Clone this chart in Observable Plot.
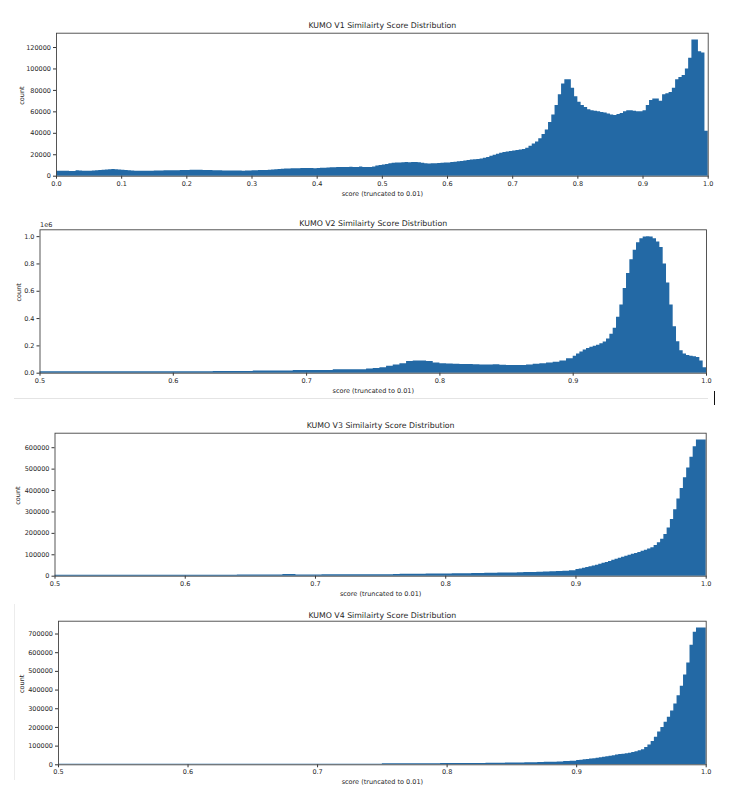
<!DOCTYPE html>
<html>
<head>
<meta charset="utf-8">
<script src="https://cdn.jsdelivr.net/npm/d3@7"></script>
<script src="https://cdn.jsdelivr.net/npm/@observablehq/plot@0.6"></script>
<style>
  html, body { margin: 0; padding: 0; background: #fff; }
  #page { position: relative; width: 729px; height: 801px; overflow: hidden; font-family: "DejaVu Sans", sans-serif; }
  .panel { position: absolute; left: 0; width: 729px; overflow: hidden; }
  .deco { position: absolute; }
</style>
</head>
<body>
<div id="page"></div>
<script>
// ---- data ----
const titles = [
  "KUMO V1 Similairty Score Distribution",
  "KUMO V2 Similairty Score Distribution",
  "KUMO V3 Similairty Score Distribution",
  "KUMO V4 Similairty Score Distribution"
];
const xLabel = "score (truncated to 0.01)";
const yLabel = "count";

// coarse bins: width 0.005 ; tail bins (0.9 - 1.0): width 0.0025
const coarseWidth = 0.005;
const tailWidth = 0.0025;
const tailStart = 0.9;

// V1: 0.0 - 1.0 in 0.005 bins
const v1Counts = [
  4500,4500,4500,4500,4300,4300,5000,4800,4500,4500,4600,4800,5000,5200,5500,5800,6000,6200,6000,5800,
  5500,5200,5000,4800,4700,4600,4600,4600,4700,4700,4800,4800,4900,5000,5000,5000,5100,5100,5200,5300,
  5400,5500,5500,5500,5500,5400,5300,5200,5100,5000,5000,4900,4900,4800,4800,4900,4800,4700,4800,4900,
  5000,5100,5200,5300,5400,5600,5800,6000,6300,6500,6700,6800,6900,7000,7000,7100,7200,7200,7100,7000,
  7100,7300,7500,7600,7800,7900,8000,8000,8200,8100,8300,8000,8200,8500,8200,8000,8000,8500,9500,10000,
  10500,11000,11500,12000,12200,12300,12600,12800,12600,12700,12800,12500,12000,11500,11300,11500,11700,11800,12000,12200,
  12400,12700,13000,13400,13800,14200,14700,15000,15300,15500,16000,16800,17500,18500,19500,20500,21500,22000,22500,23000,
  23500,24000,24500,25000,26000,28000,30000,32000,35000,39000,43000,50000,57000,66000,76000,86000,90000,90000,82000,74000,
  69000,66000,64000,62000,61000,60500,60000,59500,59000,58000,57000,56500,57500,58500,60000,61000,61000,60500,60000,60000,
  61000,66000,70500,72000,72000,70000,76000,77000,78000,82000,90000,92000,94000,100000,110000,127000,127000,116000,115000,42000
];

// V2..V4: 0.5 - 0.9 in 0.005 bins
const v2Counts = [
  10000,10000,10000,10000,10000,10000,10000,10000,10000,10000,10000,10000,10000,10000,10000,10000,10000,10000,10000,10000,
  10000,10000,10000,10000,10000,10000,13000,13000,13000,13000,13000,13000,16000,16000,16000,16000,16000,16000,20000,20000,
  20000,20000,20000,20000,25000,25000,25000,25000,25000,30000,35000,40000,50000,60000,70000,85000,90000,90000,85000,75000,
  70000,68000,65000,64000,63000,62000,60000,60000,61000,58000,56000,56000,57000,60000,65000,70000,75000,80000,90000,105000
];
const v3Counts = [
  4000,4000,4000,4000,4000,4000,4000,4000,4000,4000,4000,4000,4000,4000,4000,4000,4000,4000,4000,4000,
  4000,4000,4000,4000,4000,4000,4000,4000,5500,5500,5500,5500,5500,5500,5500,7500,7500,6000,6000,6000,
  6000,6200,6200,6300,6300,6400,6500,6500,6600,6700,6800,7000,8500,8800,9000,9200,9500,9800,10000,10200,
  10500,11000,11500,12000,12500,13000,13500,14000,14500,15000,15500,16000,16800,17500,18500,19500,20500,21500,23000,26000
];
const v4Counts = [
  3000,3000,3000,3000,3000,3000,3000,3000,3000,3000,3000,3000,3000,3000,3000,3000,3000,3000,3000,3000,
  3000,3000,3000,3000,3000,3000,3000,3000,3000,3000,3000,3000,3000,3000,3000,3000,3000,3000,3000,3000,
  3000,3000,3000,3000,3000,3000,3000,3000,3000,3000,5500,5500,5600,5700,5800,5900,6000,6100,6200,6300,
  6400,6500,6600,6800,7000,7200,8000,8300,8600,9000,9500,10000,10500,11000,12000,13000,14000,15000,17000,19000
];

// V2..V4: 0.9 - 1.0 in 0.0025 bins
const v2Tail = [
  125000,140000,155000,170000,180000,190000,198000,205000,215000,228000,
  250000,285000,330000,410000,500000,620000,730000,830000,900000,955000,
  985000,997000,1000000,997000,985000,960000,920000,800000,660000,500000,
  340000,230000,165000,140000,130000,125000,120000,115000,90000,40000
];
const v3Tail = [
  31000,34000,37500,41000,44500,48000,51500,55500,60000,64500,
  69000,74000,79000,84000,88500,93000,98000,102000,106000,111000,
  116000,121000,127000,133000,143000,156000,172000,195000,225000,265000,
  310000,360000,410000,460000,505000,555000,605000,636000,636000,636000
];
const v4Tail = [
  23000,25000,27000,29000,31000,33000,35000,38000,40500,43000,
  46000,49000,52000,54500,57000,59500,62000,66000,70000,75000,
  80000,92000,106000,125000,148000,175000,200000,228000,255000,288000,
  325000,370000,420000,480000,545000,640000,710000,732000,732000,732000
];

const xTicksV1 = [0.0,0.1,0.2,0.3,0.4,0.5,0.6,0.7,0.8,0.9,1.0];
const xTicksHigh = [0.5,0.6,0.7,0.8,0.9,1.0];
const yTicksV1 = [0,20000,40000,60000,80000,100000,120000];
const yTicksV2 = [0,200000,400000,600000,800000,1000000];
const yTicksV3 = [0,100000,200000,300000,400000,500000,600000];
const yTicksV4 = [0,100000,200000,300000,400000,500000,600000,700000];

// ---- build histogram rows ----
function binsFrom(counts, start, width) {
  return counts.map((c, i) => ({x: start + i * width, y: c}));
}
function histRows(coarse, coarseStart, tail) {
  const rows = binsFrom(coarse, coarseStart, coarseWidth);
  let end = coarseStart + coarse.length * coarseWidth;
  let last = coarse[coarse.length - 1];
  if (tail) {
    rows.push(...binsFrom(tail, tailStart, tailWidth));
    end = tailStart + tail.length * tailWidth;
    last = tail[tail.length - 1];
  }
  rows.push({x: end, y: last});
  return rows;
}

// ---- layout (styling only) ----
const barColor = "#2369a5";
const textColor = "#262626";
const panels = [
  {rows: histRows(v1Counts, 0.0, null), xDomain: [0,1], xTicks: xTicksV1, yTicks: yTicksV1, yFmt: d3.format("d"),
   top: 0, height: 200, mt: 32.7, mb: 24.3, ml: 56, mr: 21.3, titleDy: -7.5, yLabelDx: -35},
  {rows: histRows(v2Counts, 0.5, v2Tail), xDomain: [0.5,1], xTicks: xTicksHigh, yTicks: yTicksV2, yFmt: d => (d/1e6).toFixed(1), offsetText: "1e6",
   top: 200, height: 198, mt: 29.3, mb: 25.3, ml: 39.5, mr: 23, titleDy: -6.8, yLabelDx: -21},
  {rows: histRows(v3Counts, 0.5, v3Tail), xDomain: [0.5,1], xTicks: xTicksHigh, yTicks: yTicksV3, yFmt: d3.format("d"),
   top: 410, height: 189, mt: 22.7, mb: 23.3, ml: 54.5, mr: 23.3, titleDy: -7.5, yLabelDx: -37},
  {rows: histRows(v4Counts, 0.5, v4Tail), xDomain: [0.5,1], xTicks: xTicksHigh, yTicks: yTicksV4, yFmt: d3.format("d"),
   top: 599, height: 202, mt: 21.7, mb: 36.7, ml: 58, mr: 23.3, titleDy: -6, yLabelDx: -37}
];

const page = document.getElementById("page");

panels.forEach((p, k) => {
  const yMax = d3.max(p.rows, d => d.y) * 1.05;

  const marks = [
    Plot.areaY(p.rows, {x: "x", y: "y", curve: "step-after", fill: barColor}),
    Plot.axisX({ticks: p.xTicks, tickFormat: d3.format(".1f"), tickSize: 3, tickPadding: 2, fontSize: 6.5, fill: textColor, stroke: "#333", label: null}),
    Plot.axisY({ticks: p.yTicks, tickFormat: p.yFmt, tickSize: 3, tickPadding: 2.5, fontSize: 6.5, fill: textColor, stroke: "#333", label: null}),
    Plot.frame({stroke: "#444", strokeWidth: 0.9}),
    Plot.text([titles[k]], {frameAnchor: "top", dy: p.titleDy, lineAnchor: "middle", fontSize: 7.8, fill: textColor}),
    Plot.text([xLabel], {frameAnchor: "bottom", dy: 17.5, lineAnchor: "middle", fontSize: 6.5, fill: textColor}),
    Plot.text([yLabel], {frameAnchor: "left", dx: p.yLabelDx, rotate: -90, lineAnchor: "middle", fontSize: 6.5, fill: textColor})
  ];
  if (p.offsetText) {
    marks.push(Plot.text([p.offsetText], {frameAnchor: "top-left", dy: -4.5, textAnchor: "start", lineAnchor: "middle", fontSize: 6.5, fill: textColor}));
  }

  const chart = Plot.plot({
    width: 729,
    height: p.height,
    marginTop: p.mt,
    marginBottom: p.mb,
    marginLeft: p.ml,
    marginRight: p.mr,
    style: {fontFamily: "DejaVu Sans, sans-serif", fontSize: "6.5px", background: "transparent", color: textColor},
    x: {domain: p.xDomain, axis: null},
    y: {domain: [0, yMax], axis: null},
    marks
  });

  const div = document.createElement("div");
  div.className = "panel";
  div.style.top = p.top + "px";
  div.style.height = p.height + "px";
  div.appendChild(chart);
  page.appendChild(div);
});

// screenshot decorations between panels
const decos = [
  {left: 14, top: 398, width: 694, height: 1, bg: "#e4e4e4"},
  {left: 713.5, top: 391, width: 1.3, height: 14, bg: "#111"},
  {left: 14, top: 604, width: 1, height: 176, bg: "#ececec"}
];
decos.forEach(d => {
  const el = document.createElement("div");
  el.className = "deco";
  Object.assign(el.style, {left: d.left + "px", top: d.top + "px", width: d.width + "px", height: d.height + "px", background: d.bg});
  page.appendChild(el);
});
</script>
</body>
</html>
